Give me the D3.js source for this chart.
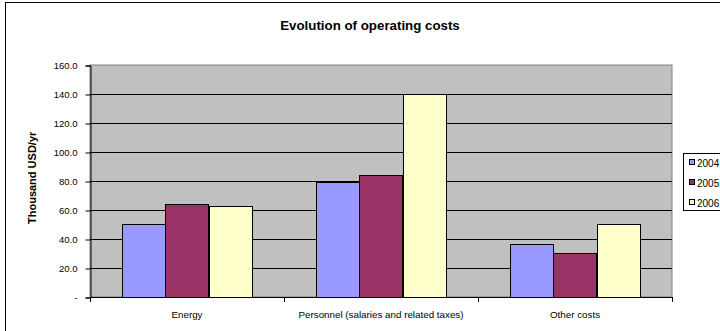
<!DOCTYPE html>
<html>
<head>
<meta charset="utf-8">
<script src="https://cdn.jsdelivr.net/npm/d3@7"></script>
<style>
  html, body { margin: 0; padding: 0; background: #fff; overflow: hidden; }
  svg { display: block; font-family: "Liberation Sans", Arial, sans-serif; }
</style>
</head>
<body>
<svg id="chart" width="720" height="331"></svg>
<script>
// Operating cost categories and yearly values (thousand USD per year)
const categories = ["Energy", "Personnel (salaries and related taxes)", "Other costs"];
const years = ["2004", "2005", "2006"];
const values2004 = [50.5, 79.5, 36.3];
const values2005 = [64.2, 84.3, 30.6];
const values2006 = [62.5, 139.8, 50.3];
const yTicks = [0, 20, 40, 60, 80, 100, 120, 140, 160];
const colors = ["#9999FF", "#993366", "#FFFFCC"];

const series = [values2004, values2005, values2006];

const svg = d3.select("#chart");

// chart area border
svg.append("rect")
  .attr("x", 5.5).attr("y", 2.5)
  .attr("width", 740).attr("height", 350)
  .attr("fill", "#fff").attr("stroke", "#000").attr("stroke-width", 1);

const plot = { left: 90, right: 672, top: 65, bottom: 297 };

const x0 = d3.scaleBand()
  .domain(categories)
  .range([plot.left, plot.right])
  .paddingInner(0).paddingOuter(0);

const x1 = d3.scaleBand()
  .domain(years)
  .range([0, x0.bandwidth()])
  .paddingInner(0)
  .paddingOuter(0.75);

const y = d3.scaleLinear().domain([0, 160]).range([plot.bottom, plot.top]);

// plot area background
svg.append("rect")
  .attr("x", plot.left).attr("y", plot.top)
  .attr("width", plot.right - plot.left).attr("height", plot.bottom - plot.top)
  .attr("fill", "#C0C0C0").attr("stroke", "#808080").attr("stroke-width", 1);

// horizontal gridlines
svg.append("g")
  .selectAll("line")
  .data(yTicks.filter(d => d > 0 && d < 160))
  .join("line")
  .attr("x1", plot.left).attr("x2", plot.right)
  .attr("y1", d => Math.round(y(d)) + 0.5).attr("y2", d => Math.round(y(d)) + 0.5)
  .attr("stroke", "#000").attr("stroke-width", 1);

// bars
const groups = svg.append("g")
  .selectAll("g")
  .data(categories)
  .join("g")
  .attr("transform", d => `translate(${x0(d)},0)`);

groups.selectAll("rect")
  .data((d, i) => years.map((yr, j) => ({ yr, v: series[j][i], j })))
  .join("rect")
  .attr("x", d => Math.round(x1(d.yr)) + 0.5)
  .attr("y", d => Math.round(y(d.v)) + 0.5)
  .attr("width", Math.round(x1.bandwidth()))
  .attr("height", d => Math.round(plot.bottom - y(d.v)))
  .attr("fill", d => colors[d.j])
  .attr("stroke", "#000").attr("stroke-width", 1);

// y axis
const yAxis = d3.axisLeft(y)
  .tickValues(yTicks)
  .tickSize(5)
  .tickPadding(8)
  .tickFormat(d => d === 0 ? "-" : d3.format(".1f")(d));

const gy = svg.append("g")
  .attr("transform", `translate(${plot.left + 0.5},0.5)`)
  .call(yAxis);
gy.select(".domain").attr("stroke", "#000");
gy.selectAll(".tick line").attr("stroke", "#000");
gy.selectAll("text")
  .attr("font-size", 9.5)
  .attr("font-family", "Liberation Sans, Arial, sans-serif")
  .attr("fill", "#000");

// x axis: ticks at category boundaries
const xAxisLine = svg.append("g");
xAxisLine.append("line")
  .attr("x1", plot.left).attr("x2", plot.right)
  .attr("y1", plot.bottom + 0.5).attr("y2", plot.bottom + 0.5)
  .attr("stroke", "#000");
const boundaries = categories.map(c => x0(c)).concat([x0.range()[1]]);
xAxisLine.selectAll("line.tk")
  .data(boundaries)
  .join("line")
  .attr("class", "tk")
  .attr("x1", d => Math.round(d) + 0.5).attr("x2", d => Math.round(d) + 0.5)
  .attr("y1", plot.bottom).attr("y2", plot.bottom + 5)
  .attr("stroke", "#000");
xAxisLine.selectAll("text")
  .data(categories)
  .join("text")
  .attr("x", d => x0(d) + x0.bandwidth() / 2)
  .attr("y", 318)
  .attr("text-anchor", "middle")
  .attr("font-size", 9.8)
  .attr("fill", "#000")
  .text(d => d);

// title
svg.append("text")
  .attr("x", 370).attr("y", 30)
  .attr("text-anchor", "middle")
  .attr("font-size", 13.3)
  .attr("font-weight", "bold")
  .text("Evolution of operating costs");

// y axis title, cut off at its top end
svg.append("clipPath").attr("id", "ytclip")
  .append("rect").attr("x", 0).attr("y", 132).attr("width", 80).attr("height", 200);
svg.append("g")
  .attr("clip-path", "url(#ytclip)")
  .append("text")
  .attr("transform", "translate(36,224) rotate(-90)")
  .attr("text-anchor", "start")
  .attr("font-size", 11)
  .attr("font-weight", "bold")
  .text("Thousand USD/yr");

// legend
const legend = svg.append("g");
legend.append("rect")
  .attr("x", 683.5).attr("y", 153.5)
  .attr("width", 60).attr("height", 57)
  .attr("fill", "#fff").attr("stroke", "#000");
const items = legend.selectAll("g.item")
  .data(years)
  .join("g")
  .attr("class", "item")
  .attr("transform", (d, i) => `translate(689,${163 + i * 20})`);
items.append("rect")
  .attr("x", 0.5).attr("y", -3.5)
  .attr("width", 5).attr("height", 5)
  .attr("fill", (d, i) => colors[i])
  .attr("stroke", "#000");
items.append("text")
  .attr("x", 8).attr("y", 3.5)
  .attr("font-size", 10)
  .text(d => d);
</script>
</body>
</html>
